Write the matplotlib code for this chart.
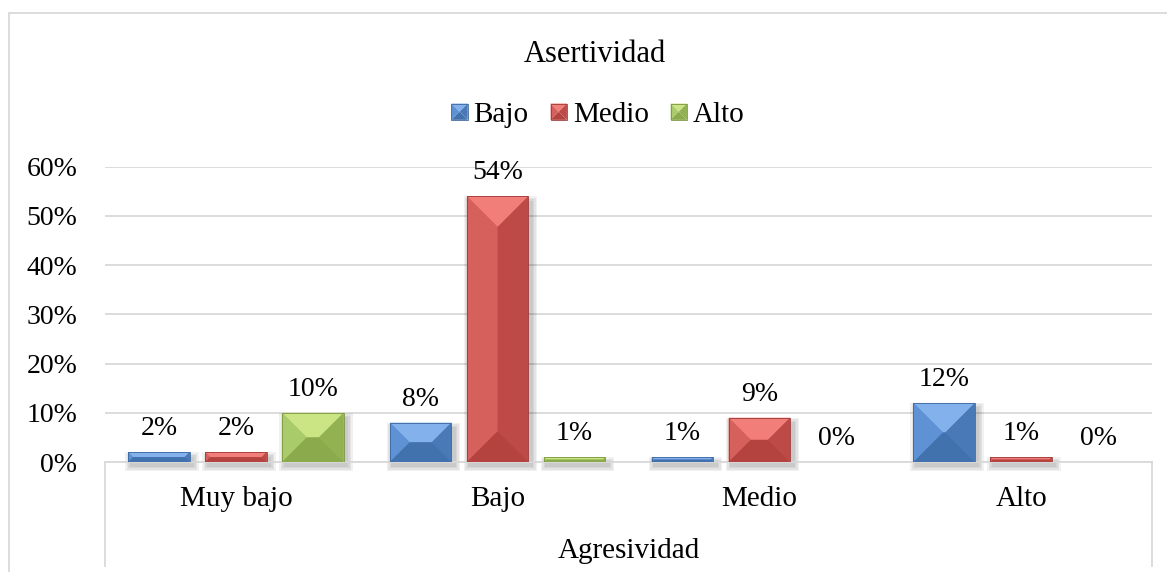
import numpy as np
import matplotlib
matplotlib.use('Agg')
import matplotlib.pyplot as plt
from matplotlib.patches import Polygon, Rectangle
from matplotlib.legend_handler import HandlerBase

# Asertividad vs Agresividad, share of students per level
categories = ['Muy bajo', 'Bajo', 'Medio', 'Alto']
series = ['Bajo', 'Medio', 'Alto']
bajo = [0.02, 0.08, 0.01, 0.12]
medio = [0.02, 0.54, 0.09, 0.01]
alto = [0.10, 0.01, 0.00, 0.00]
values = [bajo, medio, alto]
yticks = [0, 0.1, 0.2, 0.3, 0.4, 0.5, 0.6]

# bevel shades: face, top, left, right, bottom, edge
shades = {
    'Bajo': ('#5287c8', '#82b1ec', '#5e92d4', '#4979b7', '#4272ae', '#3d669c'),
    'Medio': ('#d15a56', '#f27e79', '#d6605c', '#bd4a46', '#b4423e', '#9c3b38'),
    'Alto': ('#a1c362', '#cbe585', '#a9cb6a', '#92b252', '#8aaa4b', '#7a963f'),
}

plt.rcParams['font.family'] = ['Liberation Serif', 'DejaVu Serif']
plt.rcParams['font.size'] = 21

W, H = 1167, 572
fig = plt.figure(figsize=(W / 100, H / 100), dpi=100)
left, right, bottom, top = 105, 1152, 462, 166.7
ax = fig.add_axes([left / W, 1 - bottom / H, (right - left) / W, (bottom - top) / H])
ax.set_xlim(-0.5, 3.5)
ax.set_ylim(0, 0.6)

px_x = (right - left) / 4.0
px_y = (bottom - top) / 0.6

width = 0.235
step = 0.294


def bevel(ax, rect, sh):
    """Draw the four bevel facets over a bar."""
    x0, w, h = rect.get_x(), rect.get_width(), rect.get_height()
    if h <= 0:
        return
    x1, y0, y1 = x0 + w, 0.0, h
    d = min(w * px_x, h * px_y) / 2.0
    dx, dy = d / px_x, d / px_y
    facets = [
        ([(x0, y1), (x1, y1), (x1 - dx, y1 - dy), (x0 + dx, y1 - dy)], sh[1]),
        ([(x0, y0), (x0 + dx, y0 + dy), (x0 + dx, y1 - dy), (x0, y1)], sh[2]),
        ([(x1, y0), (x1 - dx, y0 + dy), (x1 - dx, y1 - dy), (x1, y1)], sh[3]),
        ([(x0, y0), (x1, y0), (x1 - dx, y0 + dy), (x0 + dx, y0 + dy)], sh[4]),
    ]
    for pts, c in facets:
        ax.add_patch(Polygon(pts, closed=True, facecolor=c, edgecolor='none', zorder=4))
    ax.add_patch(Rectangle((x0, y0), w, h, fill=False, edgecolor=sh[5], lw=0.6, zorder=5))
    # soft shadow to the right / below
    for k in range(1, 5):
        g = k * 1.5
        ax.add_patch(Rectangle((x0 + (3 - g) / px_x, y0 - (3 + g) / px_y),
                               w + 2 * g / px_x, h + 2 * g / px_y - 3 / px_y,
                               facecolor='black', edgecolor='none', alpha=0.055,
                               zorder=2, clip_on=False))


x = np.arange(len(categories))
for i, name in enumerate(series):
    sh = shades[name]
    xs = x + (i - 1) * step
    bars = ax.bar(xs, values[i], width, color=sh[0], edgecolor='none', zorder=3, label=name)
    for rect, v in zip(bars, values[i]):
        bevel(ax, rect, sh)
        ax.annotate(f'{v:.0%}', (rect.get_x() + rect.get_width() / 2, v),
                    xytext=(0, 8), textcoords='offset points', fontsize=20,
                    ha='center', va='bottom', zorder=6)

ax.set_yticks(yticks, [f'{t:.0%}' for t in yticks])
ax.set_xticks(x, categories)
ax.tick_params(axis='y', length=0, pad=20, labelsize=20)
ax.tick_params(axis='x', length=0, pad=17, labelsize=21)
ax.yaxis.grid(True, color='#d9d9d9', linewidth=1.3)
ax.set_axisbelow(True)
for s in ['top', 'right', 'left']:
    ax.spines[s].set_visible(False)
ax.spines['bottom'].set_color('#d9d9d9')
ax.spines['bottom'].set_linewidth(1.3)

# category table edges
drop = (566 - bottom) / (bottom - top)
for xe in (0, 1):
    ax.plot([xe, xe], [0, -drop], transform=ax.transAxes, clip_on=False,
            color='#d9d9d9', lw=1.3)
ax.text(0.5, -(551 - bottom) / (bottom - top), 'Agresividad', transform=ax.transAxes,
        ha='center', va='center', fontsize=21)


class BevelHandler(HandlerBase):
    def create_artists(self, legend, orig_handle, xdescent, ydescent, width, height,
                       fontsize, trans):
        sh = shades[orig_handle.get_label()]
        s = min(width, height)
        x0, y0 = -xdescent + (width - s) / 2, -ydescent + (height - s) / 2
        x1, y1 = x0 + s, y0 + s
        cx, cy = x0 + s / 2, y0 + s / 2
        tris = [
            ([(x0, y1), (x1, y1), (cx, cy)], sh[1]),
            ([(x0, y0), (cx, cy), (x0, y1)], sh[2]),
            ([(x1, y0), (cx, cy), (x1, y1)], sh[3]),
            ([(x0, y0), (x1, y0), (cx, cy)], sh[4]),
        ]
        arts = [Polygon(p, closed=True, facecolor=c, edgecolor='none', transform=trans)
                for p, c in tris]
        arts.append(Rectangle((x0, y0), s, s, fill=False, edgecolor=sh[5], lw=0.6,
                              transform=trans))
        return arts


handles = [ax.containers[i].patches[0] for i in range(3)]
for hnd, name in zip(handles, series):
    hnd.set_label(name)
fig.legend(handles, series, loc='center', bbox_to_anchor=(598 / W, 1 - 115 / H),
           ncol=3, frameon=False, handlelength=0.56, handleheight=0.56,
           handletextpad=0.2, columnspacing=0.75, fontsize=21,
           handler_map={h: BevelHandler() for h in handles})

fig.text(595 / W, 1 - 55 / H, 'Asertividad', ha='center', va='center', fontsize=22)

# outer chart border (runs off the right and bottom edges)
fig.add_artist(Rectangle((9 / W, -0.5), 2, (1 - 12.7 / H) + 0.5, transform=fig.transFigure,
                         fill=False, edgecolor='#d9d9d9', lw=1.3))

fig.savefig('out.png', dpi=100, facecolor='white')
